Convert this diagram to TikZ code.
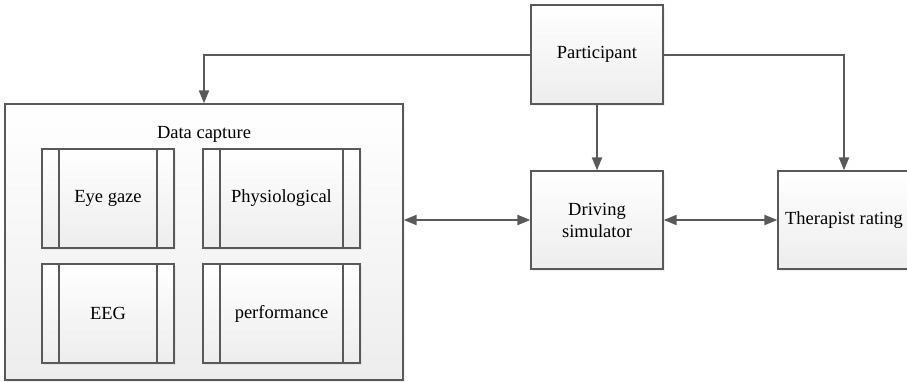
\documentclass[tikz,border=0pt]{standalone}
\usepackage{fontspec}
\setmainfont{Liberation Serif}
\usetikzlibrary{arrows.meta,shadows,positioning}
\definecolor{edge}{HTML}{595959}
\definecolor{fillbot}{HTML}{EDEDED}
\tikzset{
  box/.style={draw=edge, line width=1.3pt, top color=white, bottom color=fillbot,
    drop shadow={opacity=0.1, shadow xshift=2pt, shadow yshift=-2pt},
    align=center, font=\fontsize{18.5}{22}\selectfont, inner sep=0pt},
  sidebox/.style={box, path picture={
    \draw[edge, line width=1.1pt]
      ([xshift=17pt]path picture bounding box.north west) -- ([xshift=17pt]path picture bounding box.south west)
      ([xshift=-17pt]path picture bounding box.north east) -- ([xshift=-17pt]path picture bounding box.south east);}},
  link/.style={draw=edge, line width=2pt},
  tip/.style={-{Triangle[length=13pt,width=10pt]}},
  twotip/.style={{Triangle[length=13pt,width=10pt]}-{Triangle[length=13pt,width=10pt]}}
}
\begin{document}
\begin{tikzpicture}[x=1pt,y=-1pt]
\useasboundingbox (0,0) rectangle (907,381);
\clip (0,0) rectangle (907,381);
% outer group
\node[box, minimum width=398pt, minimum height=276pt] (dc) at (204,242) {};
\node[font=\fontsize{18.5}{22}\selectfont] (dct) at (204,134) {Data capture};
% inner sources
\node[sidebox, minimum width=132pt, minimum height=99pt] (eye) at (108,198.5) {Eye gaze};
\node[sidebox, minimum width=157pt, minimum height=99pt] (phy) at (281.5,198.5) {Physiological};
\node[sidebox, minimum width=132pt, minimum height=99pt] (eeg) at (108,313.5) {EEG};
\node[sidebox, minimum width=157pt, minimum height=99pt] (perf) at (281.5,313.5) {performance};
% main blocks
\node[box, minimum width=132pt, minimum height=99pt] (part) at (597,54.5) {Participant};
\node[box, minimum width=132pt, minimum height=98pt] (drv) at (597,220) {Driving\\simulator};
\node[box, minimum width=132pt, minimum height=98pt] (ther) at (844,220) {Therapist rating};
% connectors
\draw[link, tip] (part.west) -| (dc.north);
\draw[link, tip] (part.east) -| (ther.north);
\draw[link, tip] (part.south) -- (drv.north);
\draw[link, twotip] (dc.east |- drv.west) -- (drv.west);
\draw[link, twotip] (drv.east) -- (ther.west);
\end{tikzpicture}
\end{document}
